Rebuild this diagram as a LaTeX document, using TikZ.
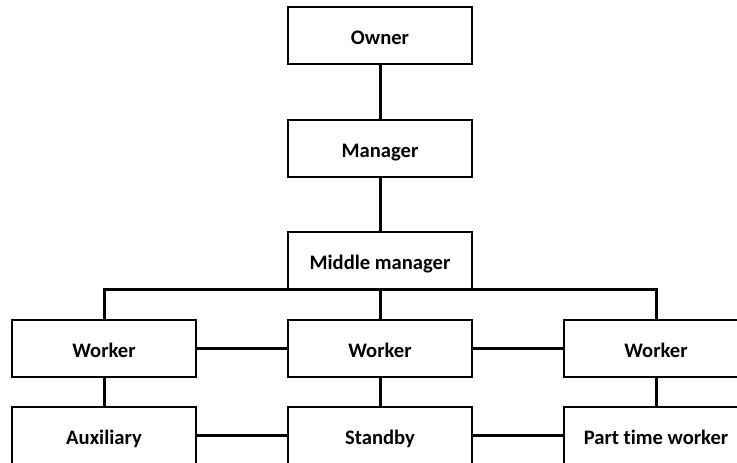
\documentclass[tikz,border=0pt]{standalone}
\usepackage{fontspec}
\setmainfont{Carlito}[Ligatures=NoCommon]
\tikzset{
  orgbox/.style={draw, line width=2pt, minimum width=184pt, minimum height=57pt,
    inner sep=0pt, text height=18pt, text depth=0pt, font=\fontsize{20.6}{24}\selectfont\bfseries},
  link/.style={line width=3pt}
}
\begin{document}
\begin{tikzpicture}[x=1pt,y=-1pt]
\useasboundingbox (0,0) rectangle (737,463);
\clip (0,0) rectangle (737,463);

\node[orgbox] (owner) at (380,35) {Owner};
\node[orgbox] (manager) at (380,148) {Manager};
\node[orgbox] (middle) at (380,260) {Middle manager};

\node[orgbox] (workerL) at (104,348) {Worker};
\node[orgbox] (workerC) at (380,348) {Worker};
\node[orgbox] (workerR) at (656,348) {Worker};

\node[orgbox] (aux) at (104,435) {Auxiliary};
\node[orgbox] (standby) at (380,435) {Standby};
\node[orgbox] (parttime) at (656,435) {Part time worker};

% vertical chain
\draw[link] (owner) -- (manager);
\draw[link] (manager) -- (middle);
\draw[link] (workerL.north) |- (middle.south) -| (workerR.north);
\draw[link] (middle) -- (workerC);

% cross links
\draw[link] (workerL) -- (workerC);
\draw[link] (workerC) -- (workerR);
\draw[link] (aux) -- (standby);
\draw[link] (standby) -- (parttime);

\draw[link] (workerL) -- (aux);
\draw[link] (workerC) -- (standby);
\draw[link] (workerR) -- (parttime);
\end{tikzpicture}
\end{document}
